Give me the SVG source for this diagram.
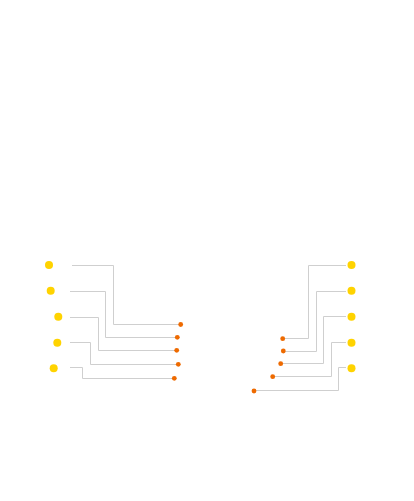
<svg xmlns="http://www.w3.org/2000/svg" width="414" height="501" viewBox="0 0 414 501">
<style>
.big{fill:#FFD300}
.small{fill:#EE6A00}
.conn path{fill:none;stroke:#cfcfcf;stroke-width:1}
</style>
<rect width="414" height="501" fill="#ffffff"/>
<g class="conn" id="connectors">
<path d="M72,265.5H113.5V324.5H180"/>
<path d="M70,291.5H105.5V337.5H177"/>
<path d="M70,317.5H98.5V350.5H177"/>
<path d="M70,342.5H90.5V364.5H178"/>
<path d="M70,367.5H82.5V378.5H174"/>
<path d="M346,265.5H308.5V338.5H283"/>
<path d="M346,291.5H316.5V351.5H283"/>
<path d="M346,316.5H323.5V363.5H281"/>
<path d="M346,342.5H331.5V376.5H273"/>
<path d="M346,367.5H338.5V390.5H254"/>
</g>
<g id="left-1"><circle class="big" cx="49" cy="265" r="4"/><circle class="small" cx="180.7" cy="324.5" r="2.4"/></g>
<g id="left-2"><circle class="big" cx="50.7" cy="290.7" r="4"/><circle class="small" cx="177.3" cy="337.3" r="2.4"/></g>
<g id="left-3"><circle class="big" cx="58.3" cy="316.7" r="4"/><circle class="small" cx="176.7" cy="350.3" r="2.4"/></g>
<g id="left-4"><circle class="big" cx="57.3" cy="342.7" r="4"/><circle class="small" cx="178.3" cy="364.3" r="2.4"/></g>
<g id="left-5"><circle class="big" cx="53.7" cy="368.3" r="4"/><circle class="small" cx="174.3" cy="378.3" r="2.4"/></g>
<g id="right-1"><circle class="big" cx="351.5" cy="265" r="4"/><circle class="small" cx="282.7" cy="338.7" r="2.4"/></g>
<g id="right-2"><circle class="big" cx="351.5" cy="290.7" r="4"/><circle class="small" cx="283.3" cy="351" r="2.4"/></g>
<g id="right-3"><circle class="big" cx="351.5" cy="316.7" r="4"/><circle class="small" cx="280.7" cy="363.7" r="2.4"/></g>
<g id="right-4"><circle class="big" cx="351.5" cy="342.7" r="4"/><circle class="small" cx="272.7" cy="376.7" r="2.4"/></g>
<g id="right-5"><circle class="big" cx="351.5" cy="368.3" r="4"/><circle class="small" cx="254" cy="391" r="2.4"/></g>
</svg>
